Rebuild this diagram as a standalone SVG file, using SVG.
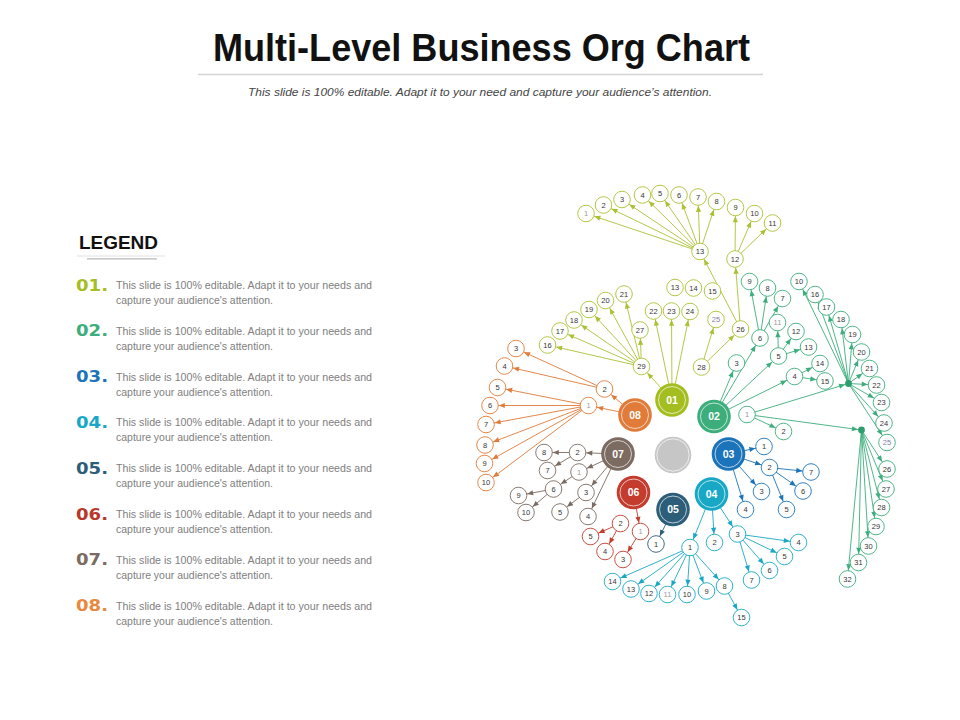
<svg xmlns="http://www.w3.org/2000/svg" width="960" height="720" viewBox="0 0 960 720">
<style>
text{font-family:"Liberation Sans",Arial,sans-serif}
.s circle{fill:#fff;stroke-width:0.9}
.s text{font-size:7.5px;fill:#363636;text-anchor:middle}
.s text.lt{fill:#9a9a9a}
.s text.pu{fill:#8080a8}
.m text{font-size:10.5px;font-weight:bold;fill:#fff;text-anchor:middle}
.m circle.ring{fill:none;stroke:#fff;stroke-width:0.8;opacity:0.85}
.k1 circle{stroke:#a9c233}.k2 circle{stroke:#3cae7c}.k3 circle{stroke:#1b74ba}.k4 circle{stroke:#18a8c5}
.k5 circle{stroke:#2c5e79}.k6 circle{stroke:#c33c2e}.k7 circle{stroke:#7b6b61}.k8 circle{stroke:#e07b39}
#connectors line{stroke-width:0.9;fill:none}
.e1{stroke:#a9c233;marker-end:url(#m1)}.e2{stroke:#3cae7c;marker-end:url(#m2)}.e2h{stroke:#3cae7c;marker-end:url(#m2h)}
.e3{stroke:#1b74ba;marker-end:url(#m3)}.e4{stroke:#18a8c5;marker-end:url(#m4)}.e5{stroke:#2c5e79;marker-end:url(#m5)}
.e6{stroke:#c33c2e;marker-end:url(#m6)}.e7{stroke:#7b6b61;marker-end:url(#m7)}.e8{stroke:#e07b39;marker-end:url(#m8)}
.lg{font-size:11.5px;fill:#808080;font-family:"Liberation Sans Narrow","Liberation Sans",Arial,sans-serif}
.num{font-family:"DejaVu Sans",sans-serif;font-weight:bold;font-size:15.5px}
</style>
<defs>
<marker id="m1" viewBox="-7 -4 16 8" refX="8.8" refY="0" markerWidth="16" markerHeight="8" markerUnits="userSpaceOnUse" orient="auto" overflow="visible"><path d="M-6,-2.6L0,0L-6,2.6Z" fill="#a9c233"/></marker>
<marker id="m2" viewBox="-7 -4 16 8" refX="8.8" refY="0" markerWidth="16" markerHeight="8" markerUnits="userSpaceOnUse" orient="auto" overflow="visible"><path d="M-6,-2.6L0,0L-6,2.6Z" fill="#3cae7c"/></marker>
<marker id="m2h" viewBox="-7 -4 16 8" refX="3.6" refY="0" markerWidth="16" markerHeight="8" markerUnits="userSpaceOnUse" orient="auto" overflow="visible"><path d="M-6,-2.6L0,0L-6,2.6Z" fill="#3cae7c"/></marker>
<marker id="m3" viewBox="-7 -4 16 8" refX="8.8" refY="0" markerWidth="16" markerHeight="8" markerUnits="userSpaceOnUse" orient="auto" overflow="visible"><path d="M-6,-2.6L0,0L-6,2.6Z" fill="#1b74ba"/></marker>
<marker id="m4" viewBox="-7 -4 16 8" refX="8.8" refY="0" markerWidth="16" markerHeight="8" markerUnits="userSpaceOnUse" orient="auto" overflow="visible"><path d="M-6,-2.6L0,0L-6,2.6Z" fill="#18a8c5"/></marker>
<marker id="m5" viewBox="-7 -4 16 8" refX="8.8" refY="0" markerWidth="16" markerHeight="8" markerUnits="userSpaceOnUse" orient="auto" overflow="visible"><path d="M-6,-2.6L0,0L-6,2.6Z" fill="#2c5e79"/></marker>
<marker id="m6" viewBox="-7 -4 16 8" refX="8.8" refY="0" markerWidth="16" markerHeight="8" markerUnits="userSpaceOnUse" orient="auto" overflow="visible"><path d="M-6,-2.6L0,0L-6,2.6Z" fill="#c33c2e"/></marker>
<marker id="m7" viewBox="-7 -4 16 8" refX="8.8" refY="0" markerWidth="16" markerHeight="8" markerUnits="userSpaceOnUse" orient="auto" overflow="visible"><path d="M-6,-2.6L0,0L-6,2.6Z" fill="#7b6b61"/></marker>
<marker id="m8" viewBox="-7 -4 16 8" refX="8.8" refY="0" markerWidth="16" markerHeight="8" markerUnits="userSpaceOnUse" orient="auto" overflow="visible"><path d="M-6,-2.6L0,0L-6,2.6Z" fill="#e07b39"/></marker>
</defs>
<rect width="960" height="720" fill="#fff"/>

<g id="header">
<text x="481.5" y="61" font-size="38" font-weight="bold" text-anchor="middle" textLength="537" lengthAdjust="spacingAndGlyphs" fill="#111">Multi-Level Business Org Chart</text>
<line x1="198" y1="74.5" x2="763" y2="74.5" stroke="#d4d4d4" stroke-width="1.5"/>
<text x="480" y="96" font-size="10.5" font-style="italic" text-anchor="middle" textLength="464" lengthAdjust="spacingAndGlyphs" fill="#444">This slide is 100% editable. Adapt it to your need and capture your audience’s attention.</text>
</g>

<g id="legend">
<text x="79" y="248.5" font-size="19" font-weight="bold" textLength="79" lengthAdjust="spacingAndGlyphs" fill="#111">LEGEND</text>
<line x1="77" y1="256" x2="165" y2="256" stroke="#e2e2e2" stroke-width="1.2"/>
<line x1="87" y1="258.8" x2="157" y2="258.8" stroke="#b8b8b8" stroke-width="1.2"/>
<text class="num" x="76" y="290.5" textLength="32" lengthAdjust="spacingAndGlyphs" fill="#a4be1f">01.</text>
<text class="lg" x="116" y="289" textLength="256" lengthAdjust="spacingAndGlyphs">This slide is 100% editable. Adapt it to your needs and</text>
<text class="lg" x="116" y="304" textLength="157" lengthAdjust="spacingAndGlyphs">capture your audience's attention.</text>
<text class="num" x="76" y="336.3" textLength="32" lengthAdjust="spacingAndGlyphs" fill="#3cae7c">02.</text>
<text class="lg" x="116" y="334.8" textLength="256" lengthAdjust="spacingAndGlyphs">This slide is 100% editable. Adapt it to your needs and</text>
<text class="lg" x="116" y="349.8" textLength="157" lengthAdjust="spacingAndGlyphs">capture your audience's attention.</text>
<text class="num" x="76" y="382.1" textLength="32" lengthAdjust="spacingAndGlyphs" fill="#1b74ba">03.</text>
<text class="lg" x="116" y="380.6" textLength="256" lengthAdjust="spacingAndGlyphs">This slide is 100% editable. Adapt it to your needs and</text>
<text class="lg" x="116" y="395.6" textLength="157" lengthAdjust="spacingAndGlyphs">capture your audience's attention.</text>
<text class="num" x="76" y="427.9" textLength="32" lengthAdjust="spacingAndGlyphs" fill="#18a8c5">04.</text>
<text class="lg" x="116" y="426.4" textLength="256" lengthAdjust="spacingAndGlyphs">This slide is 100% editable. Adapt it to your needs and</text>
<text class="lg" x="116" y="441.4" textLength="157" lengthAdjust="spacingAndGlyphs">capture your audience's attention.</text>
<text class="num" x="76" y="473.7" textLength="32" lengthAdjust="spacingAndGlyphs" fill="#2c5e79">05.</text>
<text class="lg" x="116" y="472.2" textLength="256" lengthAdjust="spacingAndGlyphs">This slide is 100% editable. Adapt it to your needs and</text>
<text class="lg" x="116" y="487.2" textLength="157" lengthAdjust="spacingAndGlyphs">capture your audience's attention.</text>
<text class="num" x="76" y="519.5" textLength="32" lengthAdjust="spacingAndGlyphs" fill="#b8392c">06.</text>
<text class="lg" x="116" y="518" textLength="256" lengthAdjust="spacingAndGlyphs">This slide is 100% editable. Adapt it to your needs and</text>
<text class="lg" x="116" y="533" textLength="157" lengthAdjust="spacingAndGlyphs">capture your audience's attention.</text>
<text class="num" x="76" y="565.3" textLength="32" lengthAdjust="spacingAndGlyphs" fill="#7b6b61">07.</text>
<text class="lg" x="116" y="563.8" textLength="256" lengthAdjust="spacingAndGlyphs">This slide is 100% editable. Adapt it to your needs and</text>
<text class="lg" x="116" y="578.8" textLength="157" lengthAdjust="spacingAndGlyphs">capture your audience's attention.</text>
<text class="num" x="76" y="611.1" textLength="32" lengthAdjust="spacingAndGlyphs" fill="#e8893e">08.</text>
<text class="lg" x="116" y="609.6" textLength="256" lengthAdjust="spacingAndGlyphs">This slide is 100% editable. Adapt it to your needs and</text>
<text class="lg" x="116" y="624.6" textLength="157" lengthAdjust="spacingAndGlyphs">capture your audience's attention.</text>
</g>

<g id="connectors">
<g class="c01">
<line class="e1" x1="700" y1="251.5" x2="586" y2="213.5"/>
<line class="e1" x1="700" y1="251.5" x2="603.5" y2="205"/>
<line class="e1" x1="700" y1="251.5" x2="622" y2="199.5"/>
<line class="e1" x1="700" y1="251.5" x2="642.5" y2="195"/>
<line class="e1" x1="700" y1="251.5" x2="660" y2="193.5"/>
<line class="e1" x1="700" y1="251.5" x2="679" y2="195"/>
<line class="e1" x1="700" y1="251.5" x2="698" y2="197"/>
<line class="e1" x1="700" y1="251.5" x2="716.5" y2="201.5"/>
<line class="e1" x1="735" y1="259" x2="735.5" y2="207.5"/>
<line class="e1" x1="735" y1="259" x2="754.5" y2="213.5"/>
<line class="e1" x1="735" y1="259" x2="772.5" y2="223"/>
<line class="e1" x1="740.5" y1="329" x2="700" y2="251.5"/>
<line class="e1" x1="740.5" y1="329" x2="735" y2="259"/>
<line class="e1" x1="701.5" y1="367" x2="716" y2="319.5"/>
<line class="e1" x1="701.5" y1="367" x2="740.5" y2="329"/>
<line class="e1" x1="672" y1="400" x2="653.5" y2="311"/>
<line class="e1" x1="672" y1="400" x2="671.5" y2="311"/>
<line class="e1" x1="672" y1="400" x2="690" y2="311.5"/>
<line class="e1" x1="672" y1="400" x2="641.5" y2="366.5"/>
<line class="e1" x1="641.5" y1="366.5" x2="547.5" y2="345"/>
<line class="e1" x1="641.5" y1="366.5" x2="560" y2="331"/>
<line class="e1" x1="641.5" y1="366.5" x2="574" y2="320"/>
<line class="e1" x1="641.5" y1="366.5" x2="589" y2="309.5"/>
<line class="e1" x1="641.5" y1="366.5" x2="605.5" y2="300.5"/>
<line class="e1" x1="641.5" y1="366.5" x2="624" y2="294"/>
<line class="e1" x1="641.5" y1="366.5" x2="640" y2="330"/>
</g>
<g class="c02">
<line class="e2" x1="714" y1="416.5" x2="736.5" y2="363"/>
<line class="e2" x1="714" y1="416.5" x2="760" y2="338"/>
<line class="e2" x1="714" y1="416.5" x2="778.5" y2="356"/>
<line class="e2" x1="714" y1="416.5" x2="794.5" y2="376.5"/>
<line class="e2" x1="760" y1="338" x2="749.5" y2="281.5"/>
<line class="e2" x1="760" y1="338" x2="767.5" y2="288"/>
<line class="e2" x1="760" y1="338" x2="782.5" y2="298.5"/>
<line class="e2" x1="778.5" y1="356" x2="777.5" y2="322.5"/>
<line class="e2" x1="778.5" y1="356" x2="796" y2="331.5"/>
<line class="e2" x1="778.5" y1="356" x2="808.5" y2="347"/>
<line class="e2" x1="794.5" y1="376.5" x2="820" y2="363.5"/>
<line class="e2" x1="794.5" y1="376.5" x2="825" y2="381"/>
<line class="e2" x1="747" y1="414.5" x2="783.5" y2="431.5"/>
<line class="e2h" x1="747" y1="414.5" x2="848.5" y2="383.5"/>
<line class="e2h" x1="747" y1="414.5" x2="861.5" y2="430"/>
<line class="e2" x1="848.5" y1="383.5" x2="799" y2="281.5"/>
<line class="e2" x1="848.5" y1="383.5" x2="815" y2="294.5"/>
<line class="e2" x1="848.5" y1="383.5" x2="826.5" y2="307"/>
<line class="e2" x1="848.5" y1="383.5" x2="841" y2="319.5"/>
<line class="e2" x1="848.5" y1="383.5" x2="852.5" y2="334.5"/>
<line class="e2" x1="848.5" y1="383.5" x2="861.5" y2="352"/>
<line class="e2" x1="848.5" y1="383.5" x2="869.5" y2="368.5"/>
<line class="e2" x1="848.5" y1="383.5" x2="876.5" y2="385"/>
<line class="e2" x1="848.5" y1="383.5" x2="881.5" y2="402.5"/>
<line class="e2" x1="848.5" y1="383.5" x2="884" y2="423"/>
<line class="e2" x1="848.5" y1="383.5" x2="887" y2="442.5"/>
<line class="e2" x1="861.5" y1="430" x2="887" y2="469"/>
<line class="e2" x1="861.5" y1="430" x2="886" y2="489"/>
<line class="e2" x1="861.5" y1="430" x2="881.5" y2="507.5"/>
<line class="e2" x1="861.5" y1="430" x2="876" y2="526.5"/>
<line class="e2" x1="861.5" y1="430" x2="868.5" y2="546"/>
<line class="e2" x1="861.5" y1="430" x2="858.5" y2="562.5"/>
<line class="e2" x1="861.5" y1="430" x2="847.5" y2="579"/>
</g>
<g class="c03">
<line class="e3" x1="728.5" y1="454" x2="764" y2="446.5"/>
<line class="e3" x1="728.5" y1="454" x2="769.5" y2="467.5"/>
<line class="e3" x1="728.5" y1="454" x2="761.5" y2="491.5"/>
<line class="e3" x1="728.5" y1="454" x2="745.5" y2="509.5"/>
<line class="e3" x1="769.5" y1="467.5" x2="811" y2="472"/>
<line class="e3" x1="769.5" y1="467.5" x2="803" y2="491"/>
<line class="e3" x1="769.5" y1="467.5" x2="786.5" y2="509.5"/>
</g>
<g class="c04">
<line class="e4" x1="711.5" y1="494" x2="690" y2="547.5"/>
<line class="e4" x1="711.5" y1="494" x2="714.5" y2="542.5"/>
<line class="e4" x1="711.5" y1="494" x2="737.5" y2="534"/>
<line class="e4" x1="690" y1="547.5" x2="612.5" y2="581.5"/>
<line class="e4" x1="690" y1="547.5" x2="631" y2="589"/>
<line class="e4" x1="690" y1="547.5" x2="649" y2="593.5"/>
<line class="e4" x1="690" y1="547.5" x2="667.5" y2="594.5"/>
<line class="e4" x1="690" y1="547.5" x2="687" y2="594.5"/>
<line class="e4" x1="690" y1="547.5" x2="706.5" y2="591"/>
<line class="e4" x1="690" y1="547.5" x2="724.5" y2="586"/>
<line class="e4" x1="724.5" y1="586" x2="741.5" y2="617.5"/>
<line class="e4" x1="737.5" y1="534" x2="798.5" y2="542.5"/>
<line class="e4" x1="737.5" y1="534" x2="784.5" y2="556.5"/>
<line class="e4" x1="737.5" y1="534" x2="769.5" y2="570.5"/>
<line class="e4" x1="737.5" y1="534" x2="751.5" y2="580"/>
</g>
<g class="c05">
<line class="e5" x1="673" y1="509.5" x2="656" y2="544"/>
</g>
<g class="c06">
<line class="e6" x1="633.5" y1="492.5" x2="640.5" y2="531.5"/>
<line class="e6" x1="640.5" y1="531.5" x2="623" y2="559.5"/>
<line class="e6" x1="620.5" y1="523.5" x2="590.5" y2="536.5"/>
<line class="e6" x1="620.5" y1="523.5" x2="605" y2="551.5"/>
</g>
<g class="c07">
<line class="e7" x1="618" y1="454" x2="577.5" y2="452.5"/>
<line class="e7" x1="618" y1="454" x2="579" y2="472"/>
<line class="e7" x1="618" y1="454" x2="586" y2="492.5"/>
<line class="e7" x1="618" y1="454" x2="588" y2="516.5"/>
<line class="e7" x1="577.5" y1="452.5" x2="544" y2="452.5"/>
<line class="e7" x1="577.5" y1="452.5" x2="547.5" y2="470.5"/>
<line class="e7" x1="579" y1="472" x2="553.5" y2="489"/>
<line class="e7" x1="553.5" y1="489" x2="518.5" y2="495.5"/>
<line class="e7" x1="553.5" y1="489" x2="526" y2="512.5"/>
<line class="e7" x1="586" y1="492.5" x2="560" y2="512"/>
</g>
<g class="c08">
<line class="e8" x1="635" y1="415" x2="588.5" y2="405.5"/>
<line class="e8" x1="635" y1="415" x2="604.5" y2="389"/>
<line class="e8" x1="604.5" y1="389" x2="516" y2="348.5"/>
<line class="e8" x1="604.5" y1="389" x2="504.5" y2="366"/>
<line class="e8" x1="588.5" y1="405.5" x2="497.5" y2="387.5"/>
<line class="e8" x1="588.5" y1="405.5" x2="490" y2="405.5"/>
<line class="e8" x1="588.5" y1="405.5" x2="486" y2="424.5"/>
<line class="e8" x1="588.5" y1="405.5" x2="485" y2="445"/>
<line class="e8" x1="588.5" y1="405.5" x2="484.5" y2="463.5"/>
<line class="e8" x1="588.5" y1="405.5" x2="486" y2="482.5"/>
</g>
</g>

<g id="nodes">
<g id="center" class="m"><circle cx="673" cy="455" r="18.3" fill="#c6c6c6"/><circle class="ring" cx="673" cy="455" r="16.2"/></g>
<g id="main-01" class="m"><circle cx="672" cy="400" r="16.8" fill="#a4be1f"/><circle class="ring" cx="672" cy="400" r="13.5"/><text x="672" y="403.8">01</text></g>
<g id="main-02" class="m"><circle cx="714" cy="416.5" r="16.8" fill="#3cae7c"/><circle class="ring" cx="714" cy="416.5" r="13.5"/><text x="714" y="420.3">02</text></g>
<g id="main-03" class="m"><circle cx="728.5" cy="454" r="16.8" fill="#1b74ba"/><circle class="ring" cx="728.5" cy="454" r="13.5"/><text x="728.5" y="457.8">03</text></g>
<g id="main-04" class="m"><circle cx="711.5" cy="494" r="16.8" fill="#18a8c5"/><circle class="ring" cx="711.5" cy="494" r="13.5"/><text x="711.5" y="497.8">04</text></g>
<g id="main-05" class="m"><circle cx="673" cy="509.5" r="16.8" fill="#2c5e79"/><circle class="ring" cx="673" cy="509.5" r="13.5"/><text x="673" y="513.3">05</text></g>
<g id="main-06" class="m"><circle cx="633.5" cy="492.5" r="16.8" fill="#c33c2e"/><circle class="ring" cx="633.5" cy="492.5" r="13.5"/><text x="633.5" y="496.3">06</text></g>
<g id="main-07" class="m"><circle cx="618" cy="454" r="16.8" fill="#7b6b61"/><circle class="ring" cx="618" cy="454" r="13.5"/><text x="618" y="457.8">07</text></g>
<g id="main-08" class="m"><circle cx="635" cy="415" r="16.8" fill="#e07b39"/><circle class="ring" cx="635" cy="415" r="13.5"/><text x="635" y="418.8">08</text></g>

<g id="n01-1" class="s k1"><circle cx="586" cy="213.5" r="8.3"/><text class="lt" x="586" y="216.2">1</text></g>
<g id="n01-2" class="s k1"><circle cx="603.5" cy="205" r="8.3"/><text x="603.5" y="207.7">2</text></g>
<g id="n01-3" class="s k1"><circle cx="622" cy="199.5" r="8.3"/><text x="622" y="202.2">3</text></g>
<g id="n01-4" class="s k1"><circle cx="642.5" cy="195" r="8.3"/><text x="642.5" y="197.7">4</text></g>
<g id="n01-5" class="s k1"><circle cx="660" cy="193.5" r="8.3"/><text x="660" y="196.2">5</text></g>
<g id="n01-6" class="s k1"><circle cx="679" cy="195" r="8.3"/><text x="679" y="197.7">6</text></g>
<g id="n01-7" class="s k1"><circle cx="698" cy="197" r="8.3"/><text x="698" y="199.7">7</text></g>
<g id="n01-8" class="s k1"><circle cx="716.5" cy="201.5" r="8.3"/><text x="716.5" y="204.2">8</text></g>
<g id="n01-9" class="s k1"><circle cx="735.5" cy="207.5" r="8.3"/><text x="735.5" y="210.2">9</text></g>
<g id="n01-10" class="s k1"><circle cx="754.5" cy="213.5" r="8.3"/><text x="754.5" y="216.2">10</text></g>
<g id="n01-11" class="s k1"><circle cx="772.5" cy="223" r="8.3"/><text x="772.5" y="225.7">11</text></g>
<g id="n01-13hub" class="s k1"><circle cx="700" cy="251.5" r="8.3"/><text x="700" y="254.2">13</text></g>
<g id="n01-12" class="s k1"><circle cx="735" cy="259" r="8.3"/><text x="735" y="261.7">12</text></g>
<g id="n01-13" class="s k1"><circle cx="675" cy="287.5" r="8.3"/><text x="675" y="290.2">13</text></g>
<g id="n01-14" class="s k1"><circle cx="693.5" cy="288" r="8.3"/><text x="693.5" y="290.7">14</text></g>
<g id="n01-15" class="s k1"><circle cx="712.5" cy="291" r="8.3"/><text x="712.5" y="293.7">15</text></g>
<g id="n01-22" class="s k1"><circle cx="653.5" cy="311" r="8.3"/><text x="653.5" y="313.7">22</text></g>
<g id="n01-23" class="s k1"><circle cx="671.5" cy="311" r="8.3"/><text x="671.5" y="313.7">23</text></g>
<g id="n01-24" class="s k1"><circle cx="690" cy="311.5" r="8.3"/><text x="690" y="314.2">24</text></g>
<g id="n01-25" class="s k1"><circle cx="716" cy="319.5" r="8.3"/><text class="pu" x="716" y="322.2">25</text></g>
<g id="n01-26" class="s k1"><circle cx="740.5" cy="329" r="8.3"/><text x="740.5" y="331.7">26</text></g>
<g id="n01-28" class="s k1"><circle cx="701.5" cy="367" r="8.3"/><text x="701.5" y="369.7">28</text></g>
<g id="n01-29" class="s k1"><circle cx="641.5" cy="366.5" r="8.3"/><text x="641.5" y="369.2">29</text></g>
<g id="n01-27" class="s k1"><circle cx="640" cy="330" r="8.3"/><text x="640" y="332.7">27</text></g>
<g id="n01-21" class="s k1"><circle cx="624" cy="294" r="8.3"/><text x="624" y="296.7">21</text></g>
<g id="n01-20" class="s k1"><circle cx="605.5" cy="300.5" r="8.3"/><text x="605.5" y="303.2">20</text></g>
<g id="n01-19" class="s k1"><circle cx="589" cy="309.5" r="8.3"/><text x="589" y="312.2">19</text></g>
<g id="n01-18" class="s k1"><circle cx="574" cy="320" r="8.3"/><text x="574" y="322.7">18</text></g>
<g id="n01-17" class="s k1"><circle cx="560" cy="331" r="8.3"/><text x="560" y="333.7">17</text></g>
<g id="n01-16" class="s k1"><circle cx="547.5" cy="345" r="8.3"/><text x="547.5" y="347.7">16</text></g>

<g id="n02-9" class="s k2"><circle cx="749.5" cy="281.5" r="8.3"/><text x="749.5" y="284.2">9</text></g>
<g id="n02-8" class="s k2"><circle cx="767.5" cy="288" r="8.3"/><text x="767.5" y="290.7">8</text></g>
<g id="n02-7" class="s k2"><circle cx="782.5" cy="298.5" r="8.3"/><text x="782.5" y="301.2">7</text></g>
<g id="n02-6" class="s k2"><circle cx="760" cy="338" r="8.3"/><text x="760" y="340.7">6</text></g>
<g id="n02-11" class="s k2"><circle cx="777.5" cy="322.5" r="8.3"/><text class="lt" x="777.5" y="325.2">11</text></g>
<g id="n02-12" class="s k2"><circle cx="796" cy="331.5" r="8.3"/><text x="796" y="334.2">12</text></g>
<g id="n02-5" class="s k2"><circle cx="778.5" cy="356" r="8.3"/><text x="778.5" y="358.7">5</text></g>
<g id="n02-13" class="s k2"><circle cx="808.5" cy="347" r="8.3"/><text x="808.5" y="349.7">13</text></g>
<g id="n02-4" class="s k2"><circle cx="794.5" cy="376.5" r="8.3"/><text x="794.5" y="379.2">4</text></g>
<g id="n02-14" class="s k2"><circle cx="820" cy="363.5" r="8.3"/><text x="820" y="366.2">14</text></g>
<g id="n02-15" class="s k2"><circle cx="825" cy="381" r="8.3"/><text x="825" y="383.7">15</text></g>
<g id="n02-3" class="s k2"><circle cx="736.5" cy="363" r="8.3"/><text x="736.5" y="365.7">3</text></g>
<g id="n02-1" class="s k2"><circle cx="747" cy="414.5" r="8.3"/><text class="lt" x="747" y="417.2">1</text></g>
<g id="n02-2" class="s k2"><circle cx="783.5" cy="431.5" r="8.3"/><text x="783.5" y="434.2">2</text></g>
<g id="n02-10" class="s k2"><circle cx="799" cy="281.5" r="8.3"/><text x="799" y="284.2">10</text></g>
<g id="n02-16" class="s k2"><circle cx="815" cy="294.5" r="8.3"/><text x="815" y="297.2">16</text></g>
<g id="n02-17" class="s k2"><circle cx="826.5" cy="307" r="8.3"/><text x="826.5" y="309.7">17</text></g>
<g id="n02-18" class="s k2"><circle cx="841" cy="319.5" r="8.3"/><text x="841" y="322.2">18</text></g>
<g id="n02-19" class="s k2"><circle cx="852.5" cy="334.5" r="8.3"/><text x="852.5" y="337.2">19</text></g>
<g id="n02-20" class="s k2"><circle cx="861.5" cy="352" r="8.3"/><text x="861.5" y="354.7">20</text></g>
<g id="n02-21" class="s k2"><circle cx="869.5" cy="368.5" r="8.3"/><text x="869.5" y="371.2">21</text></g>
<g id="n02-22" class="s k2"><circle cx="876.5" cy="385" r="8.3"/><text x="876.5" y="387.7">22</text></g>
<g id="n02-23" class="s k2"><circle cx="881.5" cy="402.5" r="8.3"/><text x="881.5" y="405.2">23</text></g>
<g id="n02-24" class="s k2"><circle cx="884" cy="423" r="8.3"/><text x="884" y="425.7">24</text></g>
<g id="n02-25" class="s k2"><circle cx="887" cy="442.5" r="8.3"/><text class="pu" x="887" y="445.2">25</text></g>
<g id="n02-26" class="s k2"><circle cx="887" cy="469" r="8.3"/><text x="887" y="471.7">26</text></g>
<g id="n02-27" class="s k2"><circle cx="886" cy="489" r="8.3"/><text x="886" y="491.7">27</text></g>
<g id="n02-28" class="s k2"><circle cx="881.5" cy="507.5" r="8.3"/><text x="881.5" y="510.2">28</text></g>
<g id="n02-29" class="s k2"><circle cx="876" cy="526.5" r="8.3"/><text x="876" y="529.2">29</text></g>
<g id="n02-30" class="s k2"><circle cx="868.5" cy="546" r="8.3"/><text x="868.5" y="548.7">30</text></g>
<g id="n02-31" class="s k2"><circle cx="858.5" cy="562.5" r="8.3"/><text x="858.5" y="565.2">31</text></g>
<g id="n02-32" class="s k2"><circle cx="847.5" cy="579" r="8.3"/><text x="847.5" y="581.7">32</text></g>
<g id="n02-hub1"><circle cx="848.5" cy="383.5" r="3.4" fill="#2f9e6e"/></g>
<g id="n02-hub2"><circle cx="861.5" cy="430" r="3.4" fill="#2f9e6e"/></g>

<g id="n03-1" class="s k3"><circle cx="764" cy="446.5" r="8.3"/><text x="764" y="449.2">1</text></g>
<g id="n03-2" class="s k3"><circle cx="769.5" cy="467.5" r="8.3"/><text x="769.5" y="470.2">2</text></g>
<g id="n03-3" class="s k3"><circle cx="761.5" cy="491.5" r="8.3"/><text x="761.5" y="494.2">3</text></g>
<g id="n03-4" class="s k3"><circle cx="745.5" cy="509.5" r="8.3"/><text x="745.5" y="512.2">4</text></g>
<g id="n03-5" class="s k3"><circle cx="786.5" cy="509.5" r="8.3"/><text x="786.5" y="512.2">5</text></g>
<g id="n03-6" class="s k3"><circle cx="803" cy="491" r="8.3"/><text x="803" y="493.7">6</text></g>
<g id="n03-7" class="s k3"><circle cx="811" cy="472" r="8.3"/><text x="811" y="474.7">7</text></g>

<g id="n04-1" class="s k4"><circle cx="690" cy="547.5" r="8.3"/><text x="690" y="550.2">1</text></g>
<g id="n04-2" class="s k4"><circle cx="714.5" cy="542.5" r="8.3"/><text x="714.5" y="545.2">2</text></g>
<g id="n04-3" class="s k4"><circle cx="737.5" cy="534" r="8.3"/><text x="737.5" y="536.7">3</text></g>
<g id="n04-4" class="s k4"><circle cx="798.5" cy="542.5" r="8.3"/><text x="798.5" y="545.2">4</text></g>
<g id="n04-5" class="s k4"><circle cx="784.5" cy="556.5" r="8.3"/><text x="784.5" y="559.2">5</text></g>
<g id="n04-6" class="s k4"><circle cx="769.5" cy="570.5" r="8.3"/><text x="769.5" y="573.2">6</text></g>
<g id="n04-7" class="s k4"><circle cx="751.5" cy="580" r="8.3"/><text x="751.5" y="582.7">7</text></g>
<g id="n04-8" class="s k4"><circle cx="724.5" cy="586" r="8.3"/><text x="724.5" y="588.7">8</text></g>
<g id="n04-9" class="s k4"><circle cx="706.5" cy="591" r="8.3"/><text x="706.5" y="593.7">9</text></g>
<g id="n04-10" class="s k4"><circle cx="687" cy="594.5" r="8.3"/><text x="687" y="597.2">10</text></g>
<g id="n04-11" class="s k4"><circle cx="667.5" cy="594.5" r="8.3"/><text class="lt" x="667.5" y="597.2">11</text></g>
<g id="n04-12" class="s k4"><circle cx="649" cy="593.5" r="8.3"/><text x="649" y="596.2">12</text></g>
<g id="n04-13" class="s k4"><circle cx="631" cy="589" r="8.3"/><text x="631" y="591.7">13</text></g>
<g id="n04-14" class="s k4"><circle cx="612.5" cy="581.5" r="8.3"/><text x="612.5" y="584.2">14</text></g>
<g id="n04-15" class="s k4"><circle cx="741.5" cy="617.5" r="8.3"/><text x="741.5" y="620.2">15</text></g>

<g id="n05-1" class="s k5"><circle cx="656" cy="544" r="8.3"/><text x="656" y="546.7">1</text></g>

<g id="n06-1" class="s k6"><circle cx="640.5" cy="531.5" r="8.3"/><text class="lt" x="640.5" y="534.2">1</text></g>
<g id="n06-2" class="s k6"><circle cx="620.5" cy="523.5" r="8.3"/><text x="620.5" y="526.2">2</text></g>
<g id="n06-3" class="s k6"><circle cx="623" cy="559.5" r="8.3"/><text x="623" y="562.2">3</text></g>
<g id="n06-4" class="s k6"><circle cx="605" cy="551.5" r="8.3"/><text x="605" y="554.2">4</text></g>
<g id="n06-5" class="s k6"><circle cx="590.5" cy="536.5" r="8.3"/><text x="590.5" y="539.2">5</text></g>

<g id="n07-1" class="s k7"><circle cx="579" cy="472" r="8.3"/><text class="lt" x="579" y="474.7">1</text></g>
<g id="n07-2" class="s k7"><circle cx="577.5" cy="452.5" r="8.3"/><text x="577.5" y="455.2">2</text></g>
<g id="n07-3" class="s k7"><circle cx="586" cy="492.5" r="8.3"/><text x="586" y="495.2">3</text></g>
<g id="n07-4" class="s k7"><circle cx="588" cy="516.5" r="8.3"/><text x="588" y="519.2">4</text></g>
<g id="n07-5" class="s k7"><circle cx="560" cy="512" r="8.3"/><text x="560" y="514.7">5</text></g>
<g id="n07-6" class="s k7"><circle cx="553.5" cy="489" r="8.3"/><text x="553.5" y="491.7">6</text></g>
<g id="n07-7" class="s k7"><circle cx="547.5" cy="470.5" r="8.3"/><text x="547.5" y="473.2">7</text></g>
<g id="n07-8" class="s k7"><circle cx="544" cy="452.5" r="8.3"/><text x="544" y="455.2">8</text></g>
<g id="n07-9" class="s k7"><circle cx="518.5" cy="495.5" r="8.3"/><text x="518.5" y="498.2">9</text></g>
<g id="n07-10" class="s k7"><circle cx="526" cy="512.5" r="8.3"/><text x="526" y="515.2">10</text></g>

<g id="n08-1" class="s k8"><circle cx="588.5" cy="405.5" r="8.3"/><text class="lt" x="588.5" y="408.2">1</text></g>
<g id="n08-2" class="s k8"><circle cx="604.5" cy="389" r="8.3"/><text x="604.5" y="391.7">2</text></g>
<g id="n08-3" class="s k8"><circle cx="516" cy="348.5" r="8.3"/><text x="516" y="351.2">3</text></g>
<g id="n08-4" class="s k8"><circle cx="504.5" cy="366" r="8.3"/><text x="504.5" y="368.7">4</text></g>
<g id="n08-5" class="s k8"><circle cx="497.5" cy="387.5" r="8.3"/><text x="497.5" y="390.2">5</text></g>
<g id="n08-6" class="s k8"><circle cx="490" cy="405.5" r="8.3"/><text x="490" y="408.2">6</text></g>
<g id="n08-7" class="s k8"><circle cx="486" cy="424.5" r="8.3"/><text x="486" y="427.2">7</text></g>
<g id="n08-8" class="s k8"><circle cx="485" cy="445" r="8.3"/><text x="485" y="447.7">8</text></g>
<g id="n08-9" class="s k8"><circle cx="484.5" cy="463.5" r="8.3"/><text x="484.5" y="466.2">9</text></g>
<g id="n08-10" class="s k8"><circle cx="486" cy="482.5" r="8.3"/><text x="486" y="485.2">10</text></g>
</g>
</svg>
